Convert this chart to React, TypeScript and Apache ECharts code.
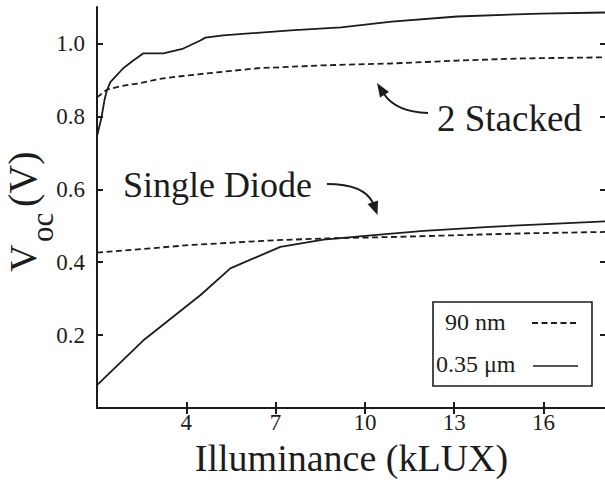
import React, { useEffect, useRef } from "react";
import * as echarts from "echarts";

const FONT = '"Liberation Serif", "Times New Roman", Times, serif';
const INK = "#1c1c1c";

// Axis ranges and tick positions
const xRange = [1, 18.1];
const yRange = [0, 1.1];
const xTicks = [4, 7, 10, 13, 16];
const yTicks = [0.2, 0.4, 0.6, 0.8, 1.0];

// Two stacked diodes, 0.35 µm process
const stacked035X = [1.0, 1.15, 1.25, 1.33, 1.45, 1.88, 2.22, 2.56, 3.23, 3.9, 4.47, 4.64, 5.24, 7.5, 9.2, 10.9, 13.1, 15.9, 18.1];
const stacked035Y = [0.745, 0.797, 0.844, 0.871, 0.894, 0.932, 0.953, 0.973, 0.973, 0.986, 1.008, 1.016, 1.022, 1.036, 1.044, 1.06, 1.074, 1.082, 1.085];

// Two stacked diodes, 90 nm process
const stacked90X = [1.0, 1.33, 1.8, 2.45, 3.1, 3.8, 4.47, 6.39, 8.6, 10.86, 13.1, 15.33, 18.1];
const stacked90Y = [0.852, 0.873, 0.883, 0.891, 0.903, 0.91, 0.916, 0.932, 0.94, 0.945, 0.953, 0.959, 0.962];

// Single diode, 0.35 µm process
const single035X = [1.0, 2.55, 4.48, 5.48, 7.16, 8.61, 10.3, 11.98, 14.2, 16.45, 18.1];
const single035Y = [0.063, 0.185, 0.31, 0.383, 0.442, 0.462, 0.474, 0.486, 0.497, 0.506, 0.512];

// Single diode, 90 nm process
const single90X = [1.0, 4.13, 6.93, 8.61, 10.86, 13.1, 15.34, 18.1];
const single90Y = [0.426, 0.447, 0.46, 0.465, 0.469, 0.474, 0.479, 0.483];

const legendNames = ["90 nm", "0.35 μm"];

const pairs = (xs: number[], ys: number[]) => xs.map((x, i) => [x, ys[i]]);

const lineSeries = (name: string, xs: number[], ys: number[], dashed: boolean) => ({
  type: "line",
  name,
  data: pairs(xs, ys),
  symbol: "none",
  silent: true,
  lineStyle: {
    color: INK,
    width: 1.8,
    type: dashed ? [6, 3.5] : "solid",
  },
});

const txt = (text: string, x: number, y: number, fontSize: number, align = "left") => ({
  type: "text",
  x,
  y,
  style: {
    text,
    fontSize,
    fontFamily: FONT,
    fill: INK,
    align,
    verticalAlign: "middle",
  },
});

export default function App() {
  const ref = useRef<HTMLDivElement>(null);

  useEffect(() => {
    if (!ref.current) return;
    const chart = echarts.init(ref.current, null, { renderer: "svg" });

    const axisLine = { show: true, lineStyle: { color: INK, width: 2 } };
    const tickStyle = { color: INK, width: 2 };

    const option: any = {
      animation: false,
      backgroundColor: "#ffffff",
      grid: {
        left: 97,
        top: 7,
        width: 509,
        height: 401,
        containLabel: false,
        outerBoundsMode: "none",
      },
      xAxis: [
        {
          type: "value",
          min: xRange[0],
          max: xRange[1],
          axisLine,
          axisTick: { show: true, inside: true, length: 6, lineStyle: tickStyle, customValues: xTicks },
          axisLabel: {
            show: true,
            customValues: xTicks,
            margin: 3,
            fontSize: 23,
            fontFamily: FONT,
            color: INK,
            formatter: (v: number) => String(v),
          },
          splitLine: { show: false },
          name: "Illuminance (kLUX)",
          nameLocation: "middle",
          nameGap: 24,
          nameTextStyle: { fontSize: 38, fontFamily: FONT, color: INK },
        },
        {
          type: "value",
          position: "top",
          min: xRange[0],
          max: xRange[1],
          axisLine,
          axisTick: { show: true, inside: true, length: 6, lineStyle: tickStyle, customValues: xTicks },
          axisLabel: { show: false },
          splitLine: { show: false },
        },
      ],
      yAxis: [
        {
          type: "value",
          min: yRange[0],
          max: yRange[1],
          axisLine,
          axisTick: { show: true, inside: true, length: 6, lineStyle: tickStyle, customValues: yTicks },
          axisLabel: {
            show: true,
            customValues: yTicks,
            margin: 12,
            fontSize: 23,
            fontFamily: FONT,
            color: INK,
            formatter: (v: number) => v.toFixed(1),
          },
          splitLine: { show: false },
        },
        {
          type: "value",
          position: "right",
          min: yRange[0],
          max: yRange[1],
          axisLine,
          axisTick: { show: true, inside: true, length: 6, lineStyle: tickStyle, customValues: yTicks },
          axisLabel: { show: false },
          splitLine: { show: false },
        },
      ],
      series: [
        lineSeries(legendNames[1], stacked035X, stacked035Y, false),
        lineSeries(legendNames[0], stacked90X, stacked90Y, true),
        lineSeries(legendNames[1], single035X, single035Y, false),
        lineSeries(legendNames[0], single90X, single90Y, true),
      ],
      graphic: [
        // Vertical axis title: V_oc (V), reading bottom to top
        {
          type: "group",
          x: 0,
          y: 272,
          rotation: Math.PI / 2,
          children: [
            txt("V", 0, 22.5, 38),
            txt("oc", 30, 42.5, 31),
            txt("(V)", 65, 22.5, 40),
          ],
        },
        // Curve annotations
        txt("2 Stacked", 437, 118, 37),
        {
          type: "bezierCurve",
          shape: { x1: 428, y1: 113, cpx1: 396, cpy1: 112, x2: 384, y2: 94 },
          style: { stroke: INK, lineWidth: 2, fill: null },
        },
        {
          type: "polygon",
          shape: { points: [[377, 83], [389, 92], [380, 97.5]] },
          style: { fill: INK },
        },
        txt("Single Diode", 123, 185, 36),
        {
          type: "bezierCurve",
          shape: { x1: 327, y1: 184, cpx1: 364, cpy1: 184, x2: 373, y2: 203 },
          style: { stroke: INK, lineWidth: 2, fill: null },
        },
        {
          type: "polygon",
          shape: { points: [[377.5, 215], [367.5, 204], [378, 200.5]] },
          style: { fill: INK },
        },
        // Process legend
        {
          type: "group",
          z: 100,
          children: [
            {
              type: "rect",
              shape: { x: 433, y: 302, width: 159, height: 84 },
              style: { fill: "#ffffff", stroke: INK, lineWidth: 1.6 },
            },
            txt(legendNames[0], 445, 322, 24),
            txt(legendNames[1], 436, 364, 24),
            {
              type: "line",
              shape: { x1: 532, y1: 323, x2: 578, y2: 323 },
              style: { stroke: INK, lineWidth: 2.2, lineDash: [6, 3.5] },
            },
            {
              type: "line",
              shape: { x1: 533, y1: 366, x2: 578, y2: 366 },
              style: { stroke: INK, lineWidth: 1.6 },
            },
          ],
        },
      ],
    };

    chart.setOption(option);
    return () => chart.dispose();
  }, []);

  return (
    <div
      ref={ref}
      style={{ position: "absolute", left: 0, top: 0, width: "605px", height: "483px", background: "#fff" }}
    />
  );
}
